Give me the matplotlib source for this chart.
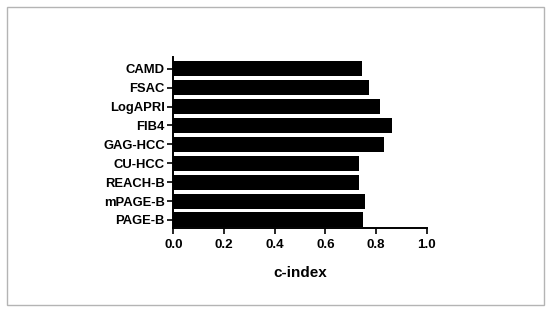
import matplotlib
matplotlib.use("Agg")
import matplotlib.pyplot as plt
from matplotlib.patches import Rectangle

categories = ["PAGE-B", "mPAGE-B", "REACH-B", "CU-HCC", "GAG-HCC", "FIB4", "LogAPRI", "FSAC", "CAMD"]
cindex = [0.749, 0.757, 0.734, 0.733, 0.833, 0.865, 0.816, 0.773, 0.746]
xticks = [0.0, 0.2, 0.4, 0.6, 0.8, 1.0]
xticklabels = ["0.0", "0.2", "0.4", "0.6", "0.8", "1.0"]

plt.rcParams['font.family'] = ['Liberation Sans', 'DejaVu Sans']
plt.rcParams['font.weight'] = 'bold'

fig = plt.figure(figsize=(5.5, 3.13), dpi=100)
fig.patches.append(Rectangle((6.5/550, 8/313), (543.5-6.5)/550, (306-8)/313,
                             transform=fig.transFigure, fill=False,
                             edgecolor='#b4b4b4', linewidth=1.0))

ax = fig.add_axes([173.3/550, 1-227.5/313, (426.7-173.3)/550, (227.5-57)/313])
ypos = list(range(len(categories)))
ax.barh(ypos, cindex, height=0.79, color='black')
ax.set_yticks(ypos)
ax.set_yticklabels(categories, fontsize=9.4, fontweight='bold')
ax.set_xticks(xticks)
ax.set_xticklabels(xticklabels, fontsize=9.6, fontweight='bold')
ax.set_xlim(0, 1.0)
ax.set_ylim(-0.4, 8.62)
ax.set_xlabel("c-index", fontsize=11, fontweight='bold', labelpad=11)
for s in ['top', 'right']:
    ax.spines[s].set_visible(False)
for s in ['left', 'bottom']:
    ax.spines[s].set_linewidth(1.4)
ax.tick_params(axis='both', length=4, width=1.2, pad=2)
ax.tick_params(axis='x', pad=4)

fig.savefig("out.png", dpi=100)
